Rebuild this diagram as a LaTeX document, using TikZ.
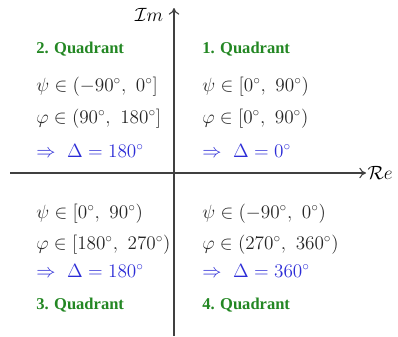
\documentclass[tikz,border=0pt]{standalone}
\usepackage{amsmath,amssymb}
\usepackage{fontspec}
\usepackage{xcolor}
\usepackage{tikz}
\usetikzlibrary{arrows.meta, positioning, calc}

\newfontfamily\quadfont{Liberation Serif}
\definecolor{quadgreen}{RGB}{35,135,35}
\definecolor{resblue}{RGB}{45,45,215}

\begin{document}
\begin{tikzpicture}[
    x=0.75pt, y=-0.75pt,
    font=\fontsize{14.8}{17}\selectfont,
    axis/.style={black!75, line width=0.8pt, -{To[length=5pt, width=8pt]}},
    quadlabel/.style={anchor=base west, inner sep=0pt, text=quadgreen,
        font=\quadfont\bfseries\fontsize{12.4}{15}\selectfont},
    condline/.style={anchor=base west, inner sep=0pt, text=black!85},
    resline/.style={anchor=base west, inner sep=0pt, text=resblue}
]

% ---------- parameters ----------
\def\lx{36}   % left column
\def\rx{202}  % right column
% canvas 398 x 336 px
\useasboundingbox (0,0) rectangle (398,336);

% ---------- axes ----------
\coordinate (ybot) at (174,336);
\coordinate (ytop) at (174,8);
\coordinate (xleft) at (10,173);
\coordinate (xright) at (366,173);
\draw[axis] (ybot) -- (ytop);
\draw[axis] (xleft) -- (xright);
\node[anchor=east, inner sep=2pt] (imlab) at (166,15) {$\mathcal{I}m$};
\node[anchor=west, inner sep=1pt] (relab) at (xright) {$\mathcal{R}e$};

% ---------- 2. quadrant (top left) ----------
\node[quadlabel] (q2) at (\lx,53) {2. Quadrant};
\node[condline] (q2psi) at (\lx,91) {$\psi \in (-90^\circ,\ 0^\circ]$};
\node[condline] (q2phi) at (\lx,123) {$\varphi \in (90^\circ,\ 180^\circ]$};
\node[resline] (q2res) at (\lx,157) {$\Rightarrow\ \Delta = 180^\circ$};

% ---------- 1. quadrant (top right) ----------
\node[quadlabel] (q1) at (\rx,53) {1. Quadrant};
\node[condline] (q1psi) at (\rx,91) {$\psi \in [0^\circ,\ 90^\circ)$};
\node[condline] (q1phi) at (\rx,123) {$\varphi \in [0^\circ,\ 90^\circ)$};
\node[resline] (q1res) at (\rx,157) {$\Rightarrow\ \Delta = 0^\circ$};

% ---------- 3. quadrant (bottom left) ----------
\node[condline] (q3psi) at (\lx,218) {$\psi \in [0^\circ,\ 90^\circ)$};
\node[condline] (q3phi) at (\lx,249) {$\varphi \in [180^\circ,\ 270^\circ)$};
\node[resline] (q3res) at (\lx,277) {$\Rightarrow\ \Delta = 180^\circ$};
\node[quadlabel] (q3) at (\lx,309) {3. Quadrant};

% ---------- 4. quadrant (bottom right) ----------
\node[condline] (q4psi) at (\rx,218) {$\psi \in (-90^\circ,\ 0^\circ)$};
\node[condline] (q4phi) at (\rx,249) {$\varphi \in (270^\circ,\ 360^\circ)$};
\node[resline] (q4res) at (\rx,277) {$\Rightarrow\ \Delta = 360^\circ$};
\node[quadlabel] (q4) at (\rx,309) {4. Quadrant};

\end{tikzpicture}
\end{document}
